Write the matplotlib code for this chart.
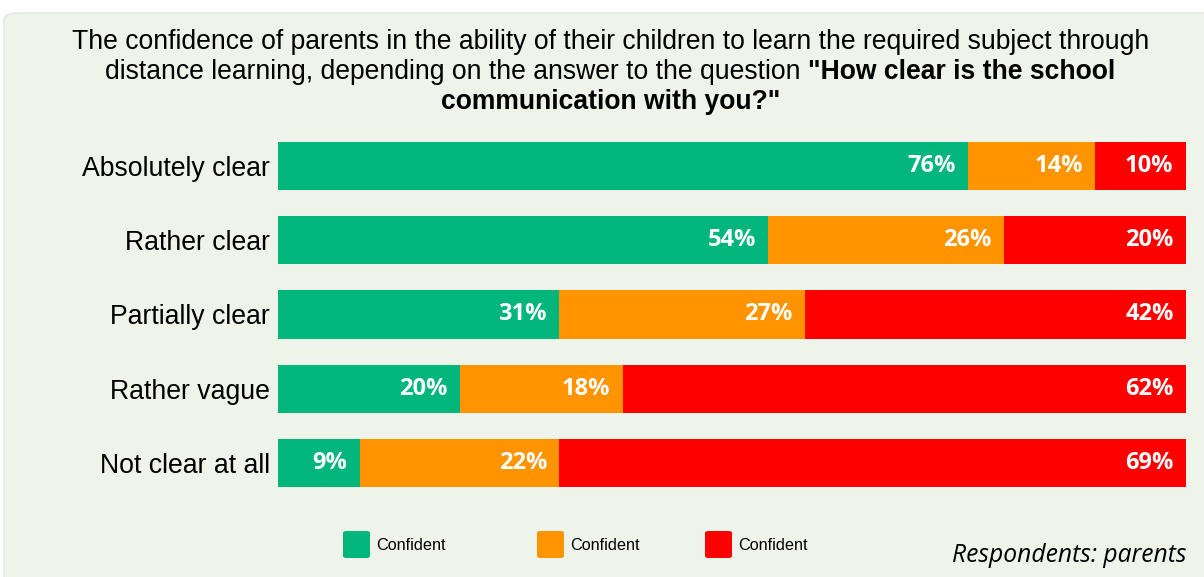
import matplotlib.pyplot as plt
from matplotlib.patches import FancyBboxPatch

# data
categories = ["Absolutely clear", "Rather clear", "Partially clear", "Rather vague", "Not clear at all"]
confident = [76, 54, 31, 20, 9]
partly = [14, 26, 27, 18, 22]
not_confident = [10, 20, 42, 62, 69]
legend_labels = ["Confident", "Confident", "Confident"]

colors = ["#00B67A", "#FF9300", "#FF0000"]
bg = "#EEF4EA"

W, H = 1204, 577
fig = plt.figure(figsize=(W / 100, H / 100), dpi=100, facecolor="white")

# light green panel
panel = FancyBboxPatch((4 / W, -0.05), 1.05, 1 - 13 / H + 0.05,
                       boxstyle="round,pad=0,rounding_size=0.012",
                       transform=fig.transFigure, facecolor=bg,
                       edgecolor="#E3E6E0", linewidth=1.0, zorder=-1)
fig.patches.append(panel)

ax = fig.add_axes([278 / W, 1 - 500 / H, (1186 - 278) / W, 371 / H])
ax.set_facecolor("none")

ypos = list(range(len(categories)))
series = [confident, partly, not_confident]
left = [0] * len(categories)
for vals, col in zip(series, colors):
    bars = ax.barh(ypos, vals, left=left, height=0.65, color=col,
                   edgecolor="none", zorder=2)
    for b, v in zip(bars, vals):
        ax.annotate(f"{v}%", (b.get_x() + b.get_width(), b.get_y() + b.get_height() / 2),
                    xytext=(-9, 0), textcoords="offset points",
                    ha="right", va="center", color="white",
                    fontsize=17, fontweight="bold", family="Open Sans")
    left = [l + v for l, v in zip(left, vals)]

ax.set_xlim(0, 100)
ax.set_ylim(len(categories) - 0.5, -0.5)
ax.set_yticks(ypos)
ax.set_yticklabels(categories, fontsize=19.2, family="Liberation Sans")
ax.tick_params(axis="y", length=0, pad=6)
ax.set_xticks([])
for s in ax.spines.values():
    s.set_visible(False)

# title, with a bold part
tfont = dict(fontsize=19.1, family="Liberation Sans", va="center")
fig.text(0.507, 1 - 42 / H, "The confidence of parents in the ability of their children to learn the required subject through",
         ha="center", **tfont)
renderer = fig.canvas.get_renderer()
p1 = fig.text(0, 1 - 72 / H, "distance learning, depending on the answer to the question ", ha="left", **tfont)
p2 = fig.text(0, 1 - 72 / H, "\"How clear is the school", ha="left", fontweight="bold", **tfont)
w1 = p1.get_window_extent(renderer).width
w2 = p2.get_window_extent(renderer).width
x0 = 0.507 * W - (w1 + w2) / 2
p1.set_x(x0 / W)
p2.set_x((x0 + w1) / W)
fig.text(0.507, 1 - 102 / H, "communication with you?\"", ha="center", fontweight="bold", **tfont)

# legend
for xs, col, lab in zip([343, 537, 705], colors, legend_labels):
    sq = FancyBboxPatch((xs / W, 1 - 558 / H), 27 / W, 27 / H,
                        boxstyle="round,pad=0,rounding_size=0.003",
                        transform=fig.transFigure, facecolor=col, edgecolor="none")
    fig.patches.append(sq)
    fig.text((xs + 33) / W, 1 - 545 / H, lab, fontsize=11.7, family="Liberation Sans",
             ha="left", va="center")

fig.text(1186 / W, 1 - 556 / H, "Respondents: parents", fontsize=17.7, style="italic",
         family="Open Sans", ha="right", va="center")

fig.savefig("out.png", dpi=100, facecolor="white")
